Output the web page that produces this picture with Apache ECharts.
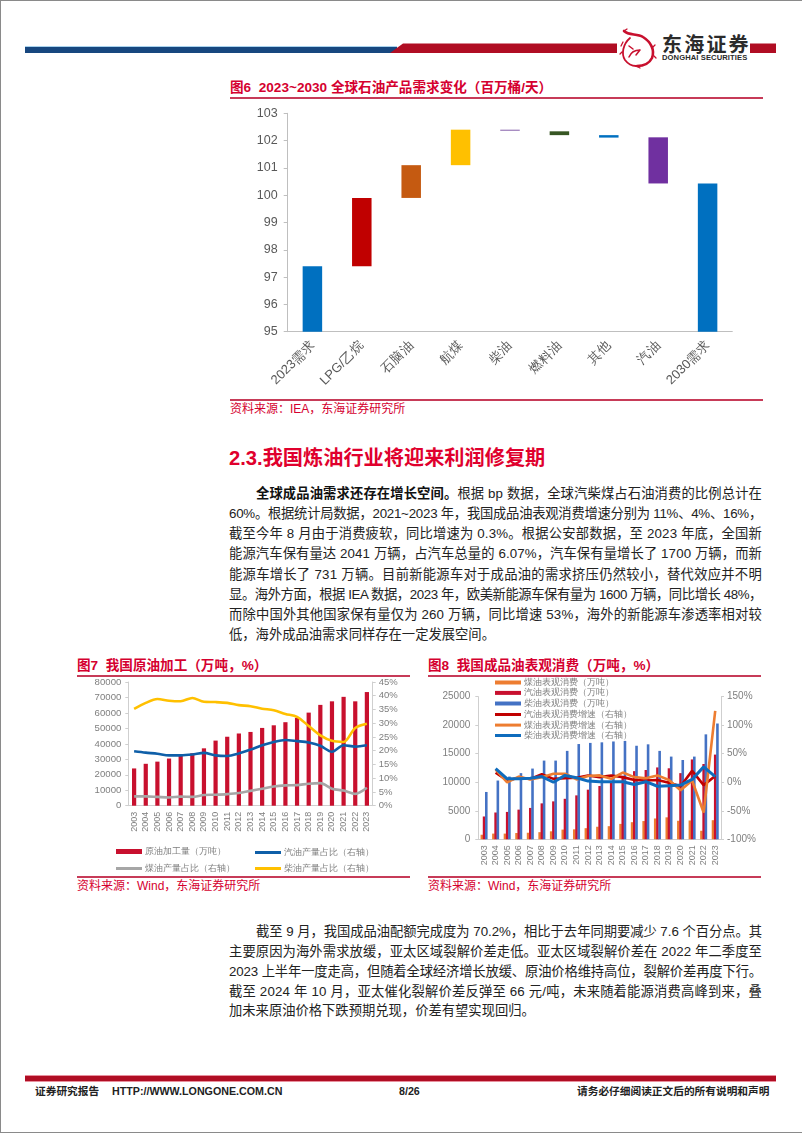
<!DOCTYPE html>
<html>
<head>
<meta charset="utf-8">
<title>东海证券</title>
<script src="https://cdn.jsdelivr.net/npm/echarts@6/dist/echarts.min.js"></script>
<style>
  html, body { margin: 0; padding: 0; background: #fff; }
  body { width: 802px; height: 1133px; position: relative; overflow: hidden; font-family: "Liberation Sans", "Noto Sans CJK SC", sans-serif; }
  .frame { position: absolute; left: 0; top: 0; width: 802px; height: 1133px; box-sizing: border-box; border-left: 1px solid #8a8a8a; border-top: 1px solid #8a8a8a; border-bottom: 1px solid #8a8a8a; }
  .abs { position: absolute; white-space: nowrap; }
  .title { color: #d5002f; font-weight: 700; font-size: 13.6px; line-height: 18px; }
  .rule { position: absolute; background: #c73b58; height: 1.5px; }
  .src { color: #d5002f; font-size: 12px; line-height: 16px; }
  .line { position: absolute; left: 229px; font-size: 13.3px; line-height: 20px; color: #222; white-space: nowrap; }
  .foot { font-size: 10.7px; font-weight: 700; color: #222; line-height: 14px; }
  .chart { position: absolute; }
</style>
</head>
<body>
<div class="frame"></div>

<svg class="abs" style="left:0;top:0" width="802" height="80">
  <rect x="25" y="46" width="372" height="1.5" fill="#a9d3ee"/>
  <rect x="25" y="47" width="372" height="6" fill="#17477f"/>
  <polygon points="403,43.5 617,43.5 617,53 390,53" fill="#b00d23"/>
  <rect x="750" y="43.5" width="26" height="9.5" fill="#b00d23"/>
  <!-- logo -->
  <g fill="none" stroke="#c8102e" stroke-linecap="round">
    <path d="M624 31 C629 36 637 33 643 37 C651 42 655 50 652 58 C649 64 643 66 637 66" stroke-width="2.6"/>
    <path d="M630 38 C623 44 621 54 625 60 C628 64 632 66 636 66" stroke-width="1.8"/>
    <path d="M629 57 C631 52 635 50 640 50 M633 49 L629 46 M640 50 L636 55" stroke-width="1.5"/>
    <path d="M636 66 L640 68 M652 48 L655 45 M654 56 L656 58 M624 31 L627 29 M623 42 L621 46 M622 52 L620 54" stroke-width="1.3"/>
  </g>
</svg>
<div class="abs" style="left:662px;top:33px;font-size:20px;line-height:24px;letter-spacing:2.2px;font-weight:700;color:#2b2b2b">东海证券</div>
<div class="abs" style="left:662px;top:53px;font-size:7.6px;line-height:10px;font-weight:700;color:#2b2b2b;letter-spacing:.1px">DONGHAI SECURITIES</div>

<div class="abs title" style="left:230px;top:79px">图6&nbsp; 2023~2030 全球石油产品需求变化（百万桶/天）</div>
<div class="rule" style="left:230px;top:97px;width:533px"></div>
<div id="chart6" class="chart" style="left:230px;top:100px;width:533px;height:298px"></div>
<div class="rule" style="left:230px;top:399px;width:533px"></div>
<div class="abs src" style="left:230px;top:401px">资料来源：IEA，东海证券研究所</div>

<div class="abs" style="left:229px;top:445px;font-size:20.2px;line-height:26px;font-weight:700;color:#e0002d">2.3.我国炼油行业将迎来利润修复期</div>
<div id="para1"></div>

<div class="abs title" style="left:77px;top:657px">图7&nbsp; 我国原油加工（万吨，%）</div>
<div class="rule" style="left:77px;top:675px;width:333px"></div>
<div id="chart7" class="chart" style="left:77px;top:677px;width:333px;height:198px"></div>
<div class="rule" style="left:77px;top:876px;width:333px"></div>
<div class="abs src" style="left:77px;top:878px">资料来源：Wind，东海证券研究所</div>

<div class="abs title" style="left:428px;top:657px">图8&nbsp; 我国成品油表观消费（万吨，%）</div>
<div class="rule" style="left:428px;top:675px;width:333px"></div>
<div id="chart8" class="chart" style="left:428px;top:677px;width:333px;height:198px"></div>
<div class="rule" style="left:428px;top:876px;width:333px"></div>
<div class="abs src" style="left:428px;top:878px">资料来源：Wind，东海证券研究所</div>

<div id="para2"></div>

<div class="abs" style="left:25px;top:1075px;width:751px;height:5px;background:#b00d23;border-top:1px solid #e8909e;border-bottom:1px solid #e8909e"></div>
<div class="abs foot" style="left:35px;top:1084px">证券研究报告</div>
<div class="abs foot" style="left:112px;top:1084px">HTTP://WWW.LONGONE.COM.CN</div>
<div class="abs foot" style="left:399px;top:1084px">8/26</div>
<div class="abs foot" style="left:577px;top:1084px">请务必仔细阅读正文后的所有说明和声明</div>

<script>
// 图6
const cats6 = ['2023需求', 'LPG/乙烷', '石脑油', '航煤', '柴油', '燃料油', '其他', '汽油', '2030需求']
const base6 = [0, 97.4, 99.9, 101.1, 102.36, 102.2, 102.11, 100.43, 0]
const delta6 = [97.4, 2.5, 1.2, 1.3, 0.04, 0.14, 0.09, 1.69, 100.43]
const colors6 = ['#0070c0', '#c00000', '#c55a11', '#ffc000', '#8e6bb0', '#375623', '#0070c0', '#7030a0', '#0070c0']

// 图7
const years = ['2003', '2004', '2005', '2006', '2007', '2008', '2009', '2010', '2011', '2012', '2013', '2014', '2015', '2016', '2017', '2018', '2019', '2020', '2021', '2022', '2023']
const crude = [24100, 27100, 28500, 30500, 32300, 33900, 37100, 42100, 44600, 46700, 47700, 50300, 52000, 54000, 56800, 60200, 65200, 67500, 70400, 67500, 73500]
const gasShare = [19.8, 19.3, 18.9, 18.3, 18.3, 18.6, 19.2, 18.3, 18.1, 19, 20.4, 22, 23.2, 23.9, 23.5, 23, 21.8, 19.6, 22, 21.5, 22]
const keroShare = [3.4, 3.4, 3.2, 3, 3.3, 3.2, 3.9, 4, 4.2, 4.6, 5.4, 6.2, 7, 7.4, 7.5, 8, 8.2, 6.2, 5.5, 4.3, 6.5]
const dieselShare = [35.2, 37.4, 38.8, 38.2, 38, 39.2, 37.8, 37.7, 37.4, 36.6, 36.2, 35.3, 34.7, 33.4, 32.3, 29, 25.6, 23.6, 23.2, 28.3, 29.8]

// 图8
const keroUse = [800, 1000, 1000, 1100, 1150, 1250, 1400, 1700, 1750, 1950, 2200, 2300, 2700, 3000, 3200, 3650, 3850, 3250, 3300, 1500, 3350]
const gasUse = [4000, 4700, 4800, 5200, 5500, 6300, 6650, 7100, 7700, 8700, 9350, 10200, 11000, 11950, 12150, 12600, 12450, 11600, 14000, 13200, 14850]
const dieselUse = [8300, 10300, 11000, 11600, 12400, 13800, 13800, 15500, 16700, 16900, 17000, 17150, 17250, 16400, 16650, 15500, 14500, 13900, 14500, 18400, 20300]
const gasGrowth = [null, 17, 3, 8, 6, 14, 6, 7, 8, 12, 9, 12, 9, 4, 3, 4, -1, -7, 20, -5, 11]
const keroGrowth = [null, 22, 0, 10, 5, 9, 15, 15, 5, 11, 12, 6, 17, 9, 7, 12, 4, -14, 3, -53, 125]
const dieselGrowth = [null, 24, 6, 6, 7, 10, 0, 12, 8, 2, 1, 1, 1, -4, 1, -7, -6, -5, 5, 27, 10]

// 正文
const para1 = [
  '<b style="font-weight:700;color:#111">全球成品油需求还存在增长空间。</b>根据 bp 数据，全球汽柴煤占石油消费的比例总计在',
  '60%。根据统计局数据，2021~2023 年，我国成品油表观消费增速分别为 11%、4%、16%，',
  '截至今年 8 月由于消费疲软，同比增速为 0.3%。根据公安部数据，至 2023 年底，全国新',
  '能源汽车保有量达 2041 万辆，占汽车总量的 6.07%，汽车保有量增长了 1700 万辆，而新',
  '能源车增长了 731 万辆。目前新能源车对于成品油的需求挤压仍然较小，替代效应并不明',
  '显。海外方面，根据 IEA 数据，2023 年，欧美新能源车保有量为 1600 万辆，同比增长 48%，',
  '而除中国外其他国家保有量仅为 260 万辆，同比增速 53%，海外的新能源车渗透率相对较',
  '低，海外成品油需求同样存在一定发展空间。'
]
const para2 = [
  '截至 9 月，我国成品油配额完成度为 70.2%，相比于去年同期要减少 7.6 个百分点。其',
  '主要原因为海外需求放缓，亚太区域裂解价差走低。亚太区域裂解价差在 2022 年二季度至',
  '2023 上半年一度走高，但随着全球经济增长放缓、原油价格维持高位，裂解价差再度下行。',
  '截至 2024 年 10 月，亚太催化裂解价差反弹至 66 元/吨，未来随着能源消费高峰到来，叠',
  '加未来原油价格下跌预期兑现，价差有望实现回归。'
]

// 每行撑满版心，最后一行不动
function writeLines(id, lines, top, step) {
  const box = document.getElementById(id)
  lines.forEach((txt, i) => {
    const el = document.createElement('div')
    const width = i === 0 ? 506 : 533
    el.className = 'line'
    el.style.top = (top + i * step) + 'px'
    el.style.left = (i === 0 ? 256 : 229) + 'px'
    el.innerHTML = txt
    box.appendChild(el)
    if (i < lines.length - 1) {
      const gap = (width - el.getBoundingClientRect().width) / el.textContent.length
      el.style.letterSpacing = gap + 'px'
    }
  })
}
writeLines('para1', para1, 484, 20.15)
writeLines('para2', para2, 922, 19.85)

const grey = '#7f7f7f'
const axisGrey = '#cfcfcf'

function init6() {
  const chart = echarts.init(document.getElementById('chart6'))
  chart.setOption({
    animation: false,
    grid: { left: 57.7, top: 13.3, width: 444.6, height: 218.4 },
    xAxis: {
      type: 'category',
      data: cats6,
      axisLine: { lineStyle: { color: '#bfbfbf' } },
      axisTick: { length: 4, lineStyle: { color: '#bfbfbf' } },
      axisLabel: { color: '#595959', fontSize: 13, rotate: 45, interval: 0, margin: 12 }
    },
    yAxis: {
      type: 'value',
      min: 95,
      max: 103,
      interval: 1,
      axisLine: { show: true, lineStyle: { color: '#bfbfbf' } },
      axisTick: { show: true, length: 4, lineStyle: { color: '#bfbfbf' } },
      axisLabel: { color: '#595959', fontSize: 12.5, margin: 10 },
      splitLine: { show: false }
    },
    series: [
      { type: 'bar', stack: 'w', data: base6, barWidth: 19.5, itemStyle: { color: 'transparent' } },
      {
        type: 'bar',
        stack: 'w',
        barWidth: 19.5,
        data: delta6.map((v, i) => ({ value: v, itemStyle: { color: colors6[i] } }))
      }
    ]
  })
}

function legendItem(name, left, top, h) {
  return {
    data: [name],
    left,
    top,
    icon: 'rect',
    itemWidth: 26,
    itemHeight: h,
    itemGap: 0,
    padding: 0,
    textStyle: { color: grey, fontSize: 9, padding: [0, 0, 0, -2] }
  }
}

function init7() {
  const chart = echarts.init(document.getElementById('chart7'))
  chart.setOption({
    animation: false,
    grid: { left: 51.3, top: 4.7, width: 244.4, height: 124 },
    legend: [
      legendItem('原油加工量（万吨）', 39, 170, 5),
      legendItem('汽油产量占比（右轴）', 178, 171, 3),
      legendItem('煤油产量占比（右轴）', 39, 187, 3),
      legendItem('柴油产量占比（右轴）', 178, 187, 3)
    ],
    xAxis: {
      type: 'category',
      data: years,
      axisLine: { lineStyle: { color: axisGrey } },
      axisTick: { show: false },
      axisLabel: { color: grey, fontSize: 9, rotate: 90, interval: 0, margin: 6 }
    },
    yAxis: [
      {
        type: 'value',
        min: 0,
        max: 80000,
        interval: 10000,
        axisLine: { show: true, lineStyle: { color: axisGrey } },
        axisTick: { show: true, length: 3, lineStyle: { color: axisGrey } },
        axisLabel: { color: grey, fontSize: 9.6, margin: 7, formatter: v => String(v) },
        splitLine: { show: false }
      },
      {
        type: 'value',
        min: 0,
        max: 45,
        interval: 5,
        axisLine: { show: true, lineStyle: { color: axisGrey } },
        axisTick: { show: true, length: 3, lineStyle: { color: axisGrey } },
        axisLabel: { color: grey, fontSize: 9.5, margin: 6, formatter: '{value}%' },
        splitLine: { show: false }
      }
    ],
    series: [
      { name: '原油加工量（万吨）', type: 'bar', data: crude, barWidth: 4.2, itemStyle: { color: '#c8102e' } },
      { name: '汽油产量占比（右轴）', type: 'line', yAxisIndex: 1, data: gasShare, smooth: 0.3, symbol: 'none', lineStyle: { color: '#0f5fa8', width: 2.6 }, itemStyle: { color: '#0f5fa8' } },
      { name: '煤油产量占比（右轴）', type: 'line', yAxisIndex: 1, data: keroShare, smooth: 0.3, symbol: 'none', lineStyle: { color: '#a6a6a6', width: 2.6 }, itemStyle: { color: '#a6a6a6' } },
      { name: '柴油产量占比（右轴）', type: 'line', yAxisIndex: 1, data: dieselShare, smooth: 0.3, symbol: 'none', lineStyle: { color: '#ffc000', width: 2.6 }, itemStyle: { color: '#ffc000' } }
    ]
  })
}

function init8() {
  const chart = echarts.init(document.getElementById('chart8'))
  const rows = [1, 11.4, 22, 33, 43.6, 54]
  chart.setOption({
    animation: false,
    grid: { left: 50.3, top: 19.7, width: 242.7, height: 142.6 },
    legend: [
      legendItem('煤油表观消费（万吨）', 67, rows[0], 4),
      legendItem('汽油表观消费（万吨）', 67, rows[1], 4),
      legendItem('柴油表观消费（万吨）', 67, rows[2], 4),
      legendItem('汽油表观消费增速（右轴）', 67, rows[3], 3),
      legendItem('煤油表观消费增速（右轴）', 67, rows[4], 3),
      legendItem('柴油表观消费增速（右轴）', 67, rows[5], 3)
    ],
    xAxis: {
      type: 'category',
      data: years,
      axisLine: { lineStyle: { color: axisGrey } },
      axisTick: { show: false },
      axisLabel: { color: grey, fontSize: 9, rotate: 90, interval: 0, margin: 6 }
    },
    yAxis: [
      {
        type: 'value',
        min: 0,
        max: 25000,
        interval: 5000,
        axisLine: { show: true, lineStyle: { color: axisGrey } },
        axisTick: { show: true, length: 3, lineStyle: { color: axisGrey } },
        axisLabel: { color: grey, fontSize: 10, margin: 8, formatter: v => String(v) },
        splitLine: { show: false }
      },
      {
        type: 'value',
        min: -100,
        max: 150,
        interval: 50,
        axisLine: { show: true, lineStyle: { color: axisGrey } },
        axisTick: { show: true, length: 3, lineStyle: { color: axisGrey } },
        axisLabel: { color: grey, fontSize: 10, margin: 6, formatter: '{value}%' },
        splitLine: { show: false }
      }
    ],
    series: [
      { name: '煤油表观消费（万吨）', type: 'bar', data: keroUse, barWidth: 2.6, barGap: '-15%', itemStyle: { color: '#ed7d31' } },
      { name: '汽油表观消费（万吨）', type: 'bar', data: gasUse, barWidth: 2.6, barGap: '-15%', itemStyle: { color: '#c8102e' } },
      { name: '柴油表观消费（万吨）', type: 'bar', data: dieselUse, barWidth: 2.6, barGap: '-15%', itemStyle: { color: '#4472c4' } },
      { name: '汽油表观消费增速（右轴）', type: 'line', yAxisIndex: 1, data: gasGrowth, symbol: 'none', lineStyle: { color: '#c00000', width: 2.6 }, itemStyle: { color: '#c00000' } },
      { name: '煤油表观消费增速（右轴）', type: 'line', yAxisIndex: 1, data: keroGrowth, symbol: 'none', lineStyle: { color: '#ed7d31', width: 2.6 }, itemStyle: { color: '#ed7d31' } },
      { name: '柴油表观消费增速（右轴）', type: 'line', yAxisIndex: 1, data: dieselGrowth, symbol: 'none', lineStyle: { color: '#0f6cbd', width: 3 }, itemStyle: { color: '#0f6cbd' } }
    ]
  })
}

init6()
init7()
init8()
</script>
</body>
</html>
